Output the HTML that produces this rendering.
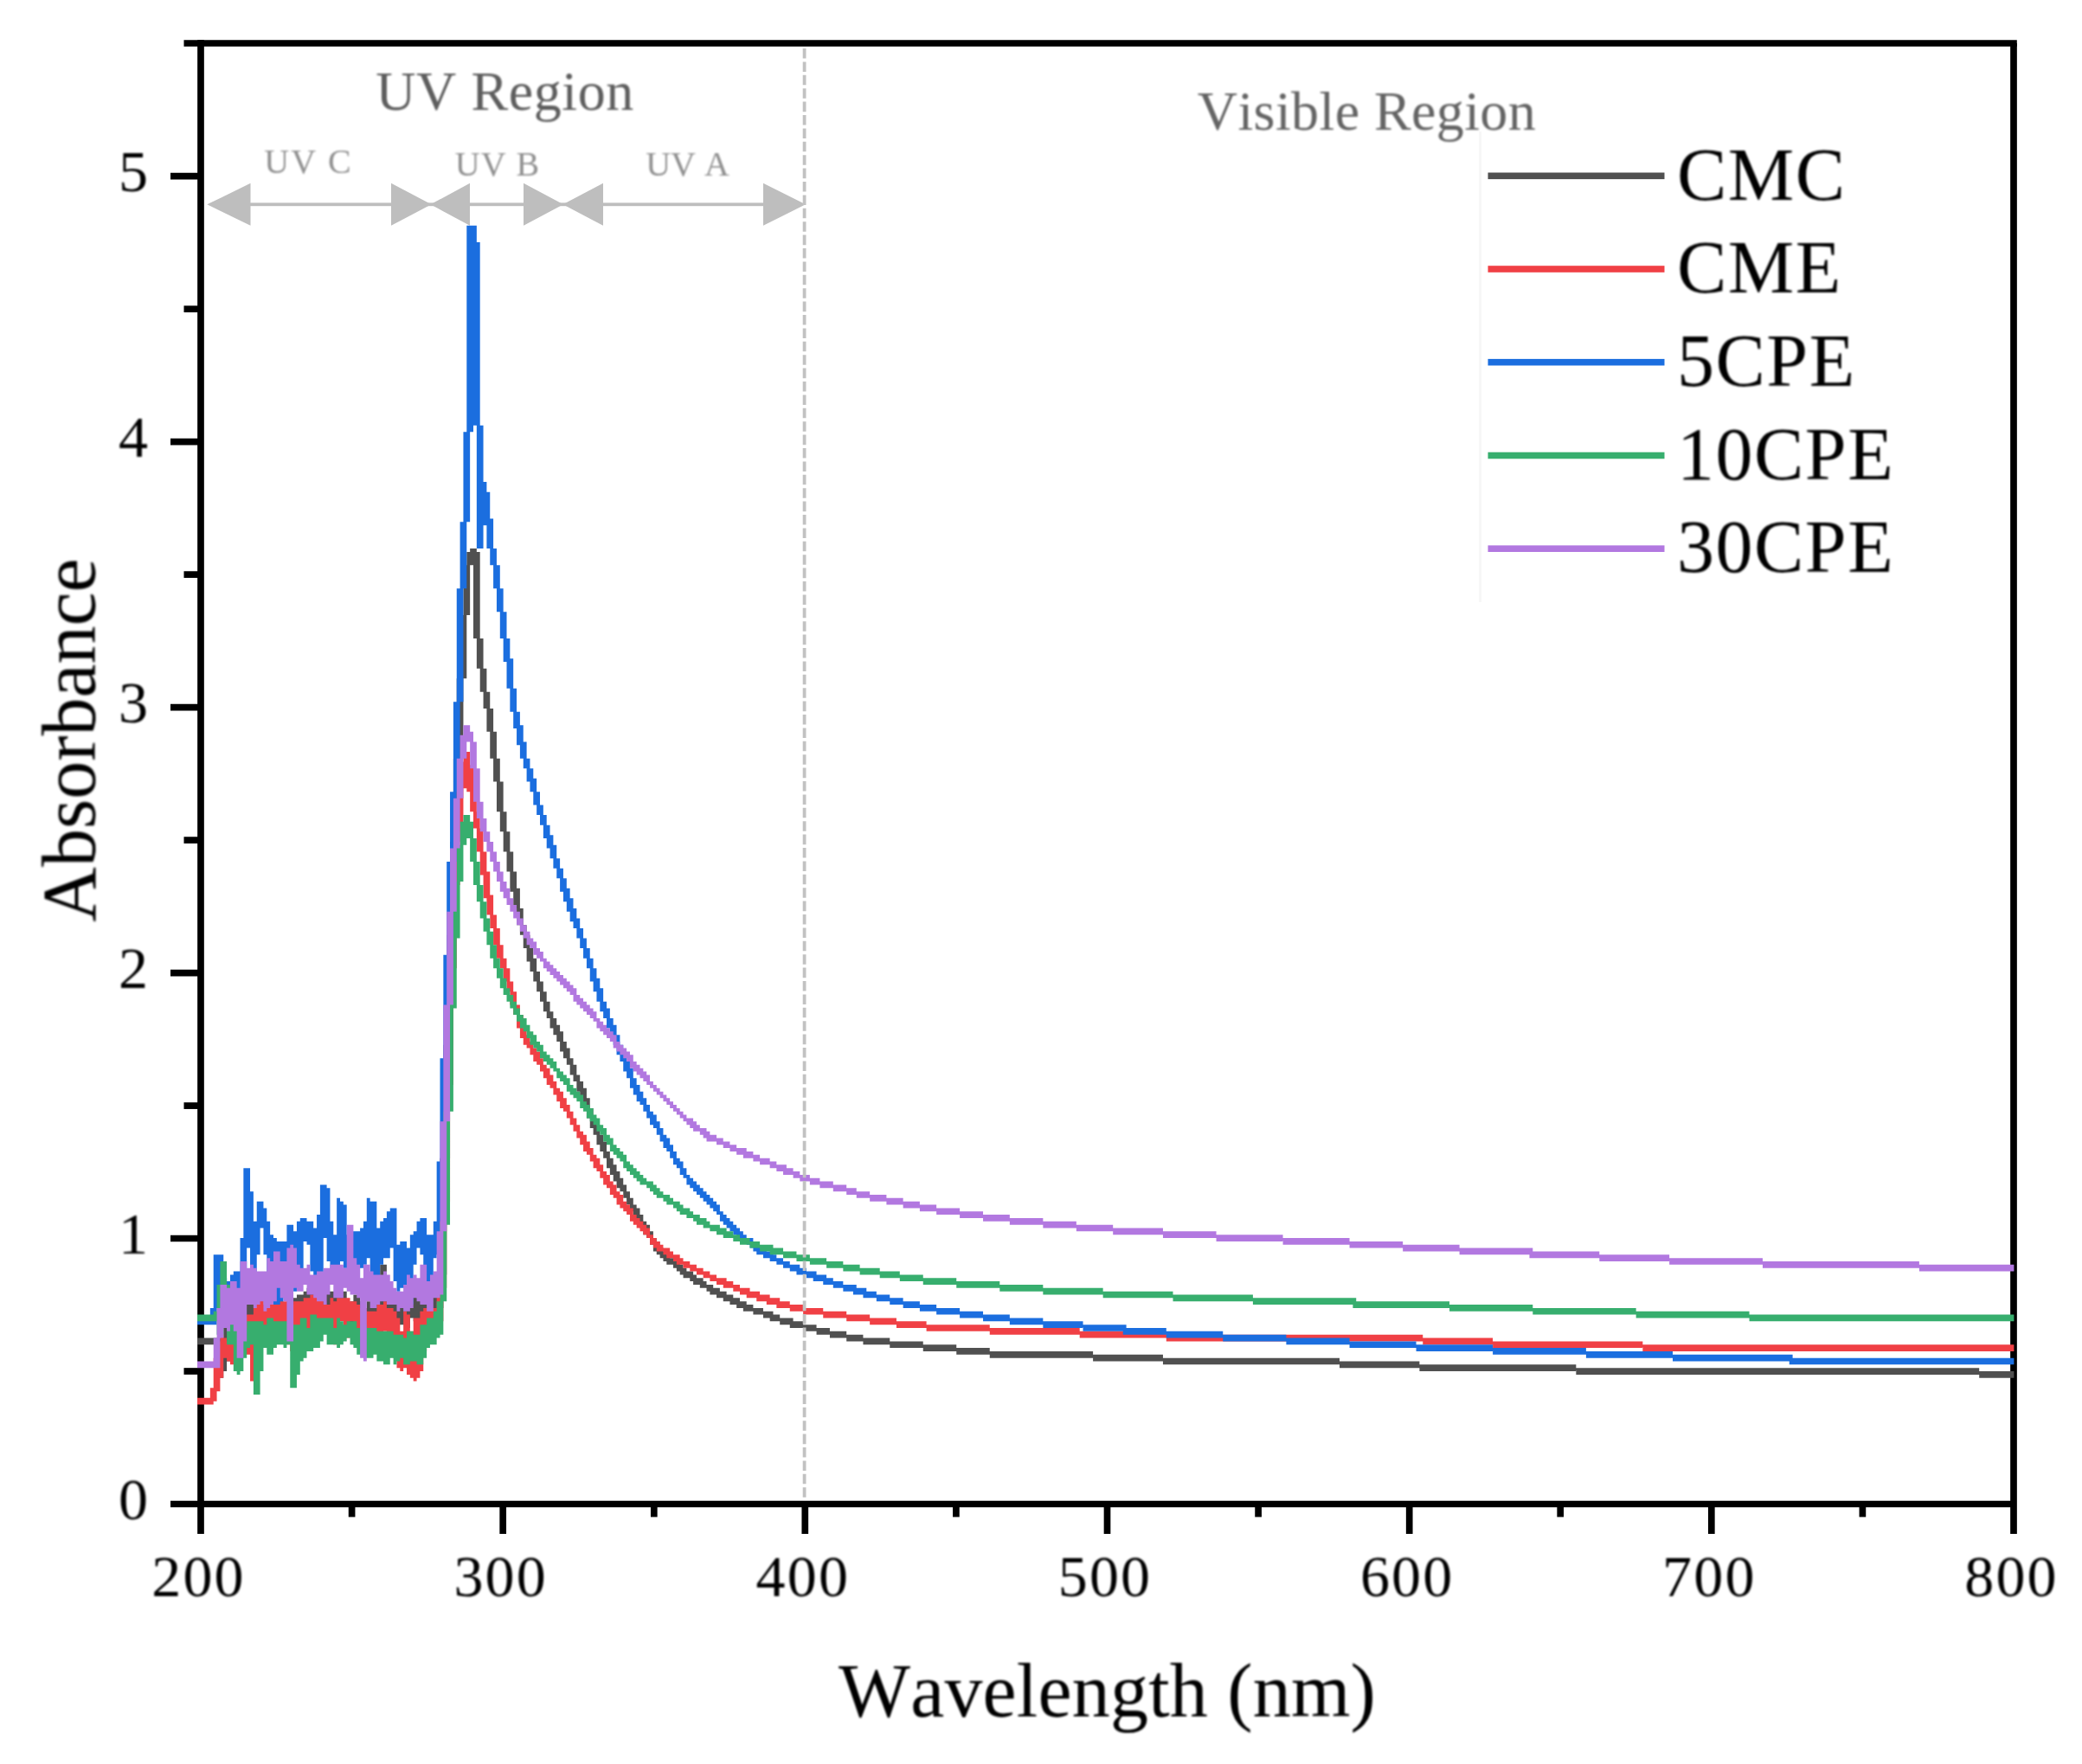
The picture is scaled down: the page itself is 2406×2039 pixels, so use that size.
<!DOCTYPE html>
<html lang="en">
<head>
<meta charset="utf-8">
<title>UV-Vis absorbance spectra</title>
<style>
html,body{margin:0;padding:0;background:#fff;}
body{width:2406px;height:2039px;overflow:hidden;}
svg{display:block;}
text{filter:blur(0.9px);font-kerning:none;}
</style>
</head>
<body>
<svg width="2406" height="2039" viewBox="0 0 2406 2039" role="img" aria-label="UV-Vis absorbance spectra">
<rect width="2406" height="2039" fill="#ffffff"/>
<line x1="1710.5" y1="152" x2="1710.5" y2="696" stroke="#f7f7f7" stroke-width="3"/>
<g fill="#bebebe" stroke="none">
<rect x="262" y="234.4" width="650" height="3.8"/>
<polygon points="239.3,236.3 289.5,211.8 289.5,260.8"/>
<polygon points="498.5,236.3 452.0,211.8 452.0,260.8"/>
<polygon points="497.5,236.3 543.0,211.8 543.0,260.8"/>
<polygon points="651.0,236.3 605.0,211.8 605.0,260.8"/>
<polygon points="650.5,236.3 697.0,211.8 697.0,260.8"/>
<polygon points="931.0,236.3 882.0,211.8 882.0,260.8"/>
</g>
<g font-family="'Liberation Serif', serif">
<text x="583.5" y="126.5" font-size="64" fill="#5e5e5e" letter-spacing="0.6" text-anchor="middle">UV Region</text>
<text x="1579.5" y="149.5" font-size="64" fill="#646464" letter-spacing="0.4" text-anchor="middle">Visible Region</text>
<text x="356.5" y="199.5" font-size="40" fill="#909090" letter-spacing="2" text-anchor="middle">UV C</text>
<text x="575" y="202.5" font-size="40" fill="#909090" letter-spacing="1" text-anchor="middle">UV B</text>
<text x="794.5" y="203" font-size="40" fill="#909090" letter-spacing="0" text-anchor="middle">UV A</text>
</g>
<g stroke="#000" stroke-width="7.7" fill="none" stroke-linecap="butt">
<path d="M212.5 50H2330.8"/>
<path d="M232.0 46.2V1773"/>
<path d="M2327.0 50V1773"/>
<path d="M197 1738.5H2327.0"/>
<path d="M212.5 1585.0H232.0"/>
<path d="M197 1431.5H232.0"/>
<path d="M212.5 1278.1H232.0"/>
<path d="M197 1124.6H232.0"/>
<path d="M212.5 971.1H232.0"/>
<path d="M197 817.6H232.0"/>
<path d="M212.5 664.1H232.0"/>
<path d="M197 510.7H232.0"/>
<path d="M212.5 357.2H232.0"/>
<path d="M197 203.7H232.0"/>
<path d="M406.6 1738.5V1753.5"/>
<path d="M755.8 1738.5V1753.5"/>
<path d="M1104.9 1738.5V1753.5"/>
<path d="M1454.1 1738.5V1753.5"/>
<path d="M1803.2 1738.5V1753.5"/>
<path d="M2152.4 1738.5V1753.5"/>
<path d="M581.2 1738.5V1773"/>
<path d="M930.3 1738.5V1773"/>
<path d="M1279.5 1738.5V1773"/>
<path d="M1628.7 1738.5V1773"/>
<path d="M1977.8 1738.5V1773"/>
</g>
<defs><clipPath id="plot"><rect x="228.0" y="54" width="2099.4" height="1690"/></clipPath></defs>
<g stroke="none" clip-path="url(#plot)">
<path fill="#505050" d="M219.75 1546.55h3.85v3.85h-3.85zM223.6 1546.55h26.95v7.7h-26.95zM250.55 1546.55h7.7v46.2h-7.7zM258.25 1531.15h3.85v53.9h-3.85zM262.1 1531.15h3.85v42.35h-3.85zM265.95 1527.3h3.85v38.5h-3.85zM269.8 1511.9h3.85v46.2h-3.85zM273.65 1508.05h3.85v42.35h-3.85zM277.5 1508.05h3.85v34.65h-3.85zM281.35 1508.05h3.85v26.95h-3.85zM285.2 1500.35h7.7v30.8h-7.7zM292.9 1500.35h3.85v19.25h-3.85zM296.75 1500.35h3.85v30.8h-3.85zM300.6 1508.05h3.85v26.95h-3.85zM304.45 1496.5h7.7v38.5h-7.7zM312.15 1492.65h3.85v38.5h-3.85zM316 1492.65h3.85v42.35h-3.85zM319.85 1496.5h3.85v38.5h-3.85zM323.7 1504.2h3.85v34.65h-3.85zM327.55 1511.9h3.85v26.95h-3.85zM331.4 1500.35h3.85v38.5h-3.85zM335.25 1500.35h7.7v34.65h-7.7zM342.95 1496.5h3.85v26.95h-3.85zM346.8 1496.5h3.85v34.65h-3.85zM350.65 1492.65h3.85v34.65h-3.85zM354.5 1488.8h3.85v34.65h-3.85zM358.35 1488.8h3.85v26.95h-3.85zM362.2 1492.65h7.7v30.8h-7.7zM369.9 1488.8h3.85v30.8h-3.85zM373.75 1488.8h3.85v34.65h-3.85zM377.6 1492.65h7.7v26.95h-7.7zM385.3 1492.65h3.85v34.65h-3.85zM389.15 1496.5h3.85v30.8h-3.85zM393 1492.65h7.7v30.8h-7.7zM400.7 1511.9h3.85v19.25h-3.85zM404.55 1504.2h3.85v26.95h-3.85zM408.4 1496.5h7.7v34.65h-7.7zM416.1 1504.2h3.85v42.35h-3.85zM419.95 1511.9h3.85v38.5h-3.85zM423.8 1504.2h3.85v46.2h-3.85zM427.65 1504.2h3.85v38.5h-3.85zM431.5 1504.2h3.85v42.35h-3.85zM435.35 1496.5h3.85v30.8h-3.85zM439.2 1461.85h3.85v65.45h-3.85zM443.05 1461.85h3.85v61.6h-3.85zM446.9 1500.35h3.85v23.1h-3.85zM450.75 1504.2h7.7v26.95h-7.7zM458.45 1508.05h3.85v23.1h-3.85zM462.3 1504.2h3.85v26.95h-3.85zM466.15 1508.05h3.85v23.1h-3.85zM470 1500.35h3.85v34.65h-3.85zM473.85 1492.65h3.85v30.8h-3.85zM477.7 1492.65h3.85v34.65h-3.85zM481.55 1500.35h3.85v30.8h-3.85zM485.4 1500.35h3.85v34.65h-3.85zM489.25 1504.2h3.85v26.95h-3.85zM493.1 1508.05h3.85v19.25h-3.85zM496.95 1492.65h3.85v34.65h-3.85zM500.8 1492.65h3.85v30.8h-3.85zM504.65 1473.4h3.85v50.05h-3.85zM508.5 1338.65h3.85v173.25h-3.85zM512.35 1207.75h3.85v265.65h-3.85zM516.2 1080.7h3.85v257.95h-3.85zM520.05 972.9h3.85v234.85h-3.85zM523.9 876.65h3.85v204.05h-3.85zM527.75 784.25h3.85v188.65h-3.85zM531.6 711.1h3.85v165.55h-3.85zM535.45 653.35h3.85v130.9h-3.85zM539.3 637.95h3.85v73.15h-3.85zM543.15 634.1h3.85v19.25h-3.85zM547 634.1h3.85v103.95h-3.85zM550.85 637.95h3.85v134.75h-3.85zM554.7 738.05h3.85v61.6h-3.85zM558.55 772.7h3.85v46.2h-3.85zM562.4 799.65h3.85v46.2h-3.85zM566.25 818.9h3.85v57.75h-3.85zM570.1 845.85h3.85v57.75h-3.85zM573.95 876.65h3.85v61.6h-3.85zM577.8 903.6h3.85v57.75h-3.85zM581.65 938.25h3.85v46.2h-3.85zM585.5 961.35h3.85v46.2h-3.85zM589.35 984.45h3.85v46.2h-3.85zM593.2 1007.55h3.85v42.35h-3.85zM597.05 1026.8h3.85v42.35h-3.85zM600.9 1049.9h3.85v30.8h-3.85zM604.75 1069.15h3.85v26.95h-3.85zM608.6 1080.7h3.85v30.8h-3.85zM612.45 1096.1h3.85v26.95h-3.85zM616.3 1107.65h3.85v26.95h-3.85zM620.15 1123.05h3.85v23.1h-3.85zM624 1134.6h3.85v23.1h-3.85zM627.85 1146.15h3.85v23.1h-3.85zM631.7 1157.7h3.85v19.25h-3.85zM635.55 1169.25h3.85v19.25h-3.85zM639.4 1176.95h3.85v19.25h-3.85zM643.25 1184.65h3.85v19.25h-3.85zM647.1 1192.35h3.85v23.1h-3.85zM650.95 1203.9h3.85v19.25h-3.85zM654.8 1211.6h3.85v19.25h-3.85zM658.65 1223.15h3.85v19.25h-3.85zM662.5 1230.85h3.85v19.25h-3.85zM666.35 1242.4h3.85v19.25h-3.85zM670.2 1250.1h3.85v19.25h-3.85zM674.05 1257.8h3.85v23.1h-3.85zM677.9 1269.35h3.85v23.1h-3.85zM681.75 1280.9h3.85v23.1h-3.85zM685.6 1292.45h3.85v19.25h-3.85zM689.45 1300.15h3.85v23.1h-3.85zM693.3 1311.7h3.85v19.25h-3.85zM697.15 1319.4h3.85v19.25h-3.85zM701 1330.95h3.85v19.25h-3.85zM704.85 1338.65h3.85v19.25h-3.85zM708.7 1346.35h3.85v19.25h-3.85zM712.55 1354.05h3.85v19.25h-3.85zM716.4 1361.75h3.85v15.4h-3.85zM720.25 1369.45h3.85v15.4h-3.85zM724.1 1377.15h3.85v15.4h-3.85zM727.95 1384.85h3.85v15.4h-3.85zM731.8 1392.55h3.85v15.4h-3.85zM735.65 1396.4h3.85v15.4h-3.85zM739.5 1404.1h3.85v15.4h-3.85zM743.35 1411.8h3.85v15.4h-3.85zM747.2 1415.65h3.85v15.4h-3.85zM751.05 1423.35h3.85v15.4h-3.85zM754.9 1431.05h3.85v15.4h-3.85zM758.75 1434.9h3.85v15.4h-3.85zM762.6 1442.6h3.85v11.55h-3.85zM766.45 1446.45h3.85v11.55h-3.85zM770.3 1450.3h3.85v11.55h-3.85zM774.15 1454.15h3.85v7.7h-3.85zM778 1458h3.85v7.7h-3.85zM781.85 1458h3.85v11.55h-3.85zM785.7 1461.85h3.85v11.55h-3.85zM789.55 1465.7h3.85v11.55h-3.85zM793.4 1469.55h3.85v7.7h-3.85zM797.25 1469.55h3.85v11.55h-3.85zM801.1 1473.4h3.85v11.55h-3.85zM804.95 1477.25h3.85v7.7h-3.85zM808.8 1477.25h3.85v11.55h-3.85zM812.65 1481.1h3.85v7.7h-3.85zM816.5 1484.95h3.85v7.7h-3.85zM820.35 1484.95h3.85v11.55h-3.85zM824.2 1488.8h3.85v7.7h-3.85zM828.05 1488.8h3.85v11.55h-3.85zM831.9 1492.65h3.85v7.7h-3.85zM835.75 1492.65h3.85v11.55h-3.85zM839.6 1496.5h3.85v7.7h-3.85zM843.45 1496.5h3.85v11.55h-3.85zM847.3 1500.35h3.85v7.7h-3.85zM851.15 1500.35h3.85v11.55h-3.85zM855 1504.2h3.85v7.7h-3.85zM858.85 1504.2h3.85v11.55h-3.85zM862.7 1508.05h7.7v7.7h-7.7zM870.4 1511.9h11.55v7.7h-11.55zM881.95 1515.75h7.7v7.7h-7.7zM889.65 1515.75h3.85v11.55h-3.85zM893.5 1519.6h7.7v7.7h-7.7zM901.2 1523.45h11.55v7.7h-11.55zM912.75 1523.45h3.85v11.55h-3.85zM916.6 1527.3h11.55v7.7h-11.55zM928.15 1531.15h15.4v7.7h-15.4zM943.55 1535h15.4v7.7h-15.4zM958.95 1538.85h19.25v7.7h-19.25zM978.2 1542.7h19.25v7.7h-19.25zM997.45 1546.55h30.8v7.7h-30.8zM1028.25 1550.4h38.5v7.7h-38.5zM1066.75 1554.25h38.5v7.7h-38.5zM1105.25 1558.1h38.5v7.7h-38.5zM1143.75 1561.95h119.35v7.7h-119.35zM1263.1 1565.8h80.85v7.7h-80.85zM1343.95 1569.65h204.05v7.7h-204.05zM1548 1573.5h92.4v7.7h-92.4zM1640.4 1577.35h180.95v7.7h-180.95zM1821.35 1581.2h465.85v7.7h-465.85zM2287.2 1585.05h42.35v7.7h-42.35z"/>
<path fill="#F04045" d="M219.75 1615.85h3.85v3.85h-3.85zM223.6 1615.85h19.25v7.7h-19.25zM242.85 1604.3h3.85v19.25h-3.85zM246.7 1569.65h3.85v50.05h-3.85zM250.55 1550.4h3.85v57.75h-3.85zM254.4 1542.7h3.85v50.05h-3.85zM258.25 1546.55h3.85v23.1h-3.85zM262.1 1550.4h3.85v23.1h-3.85zM265.95 1535h3.85v42.35h-3.85zM269.8 1538.85h3.85v38.5h-3.85zM273.65 1535h3.85v38.5h-3.85zM277.5 1535h3.85v30.8h-3.85zM281.35 1519.6h7.7v46.2h-7.7zM289.05 1519.6h3.85v77h-3.85zM292.9 1488.8h3.85v107.8h-3.85zM296.75 1484.95h3.85v80.85h-3.85zM300.6 1484.95h3.85v53.9h-3.85zM304.45 1508.05h3.85v30.8h-3.85zM308.3 1496.5h3.85v38.5h-3.85zM312.15 1492.65h3.85v38.5h-3.85zM316 1492.65h3.85v42.35h-3.85zM319.85 1504.2h3.85v38.5h-3.85zM323.7 1504.2h3.85v42.35h-3.85zM327.55 1504.2h3.85v46.2h-3.85zM331.4 1504.2h3.85v50.05h-3.85zM335.25 1508.05h3.85v53.9h-3.85zM339.1 1504.2h3.85v57.75h-3.85zM342.95 1504.2h3.85v50.05h-3.85zM346.8 1504.2h3.85v46.2h-3.85zM350.65 1500.35h7.7v46.2h-7.7zM358.35 1496.5h7.7v50.05h-7.7zM366.05 1496.5h3.85v46.2h-3.85zM369.9 1496.5h3.85v38.5h-3.85zM373.75 1508.05h3.85v23.1h-3.85zM377.6 1508.05h3.85v19.25h-3.85zM381.45 1500.35h3.85v46.2h-3.85zM385.3 1504.2h3.85v50.05h-3.85zM389.15 1500.35h3.85v50.05h-3.85zM393 1500.35h3.85v26.95h-3.85zM396.85 1500.35h7.7v46.2h-7.7zM404.55 1504.2h3.85v23.1h-3.85zM408.4 1504.2h3.85v50.05h-3.85zM412.25 1508.05h3.85v46.2h-3.85zM416.1 1511.9h7.7v38.5h-7.7zM423.8 1515.75h3.85v30.8h-3.85zM427.65 1515.75h3.85v34.65h-3.85zM431.5 1515.75h3.85v26.95h-3.85zM435.35 1508.05h7.7v42.35h-7.7zM443.05 1504.2h3.85v34.65h-3.85zM446.9 1511.9h3.85v42.35h-3.85zM450.75 1511.9h3.85v46.2h-3.85zM454.6 1515.75h3.85v53.9h-3.85zM458.45 1523.45h3.85v57.75h-3.85zM462.3 1538.85h3.85v46.2h-3.85zM466.15 1515.75h3.85v65.45h-3.85zM470 1519.6h3.85v69.3h-3.85zM473.85 1538.85h3.85v53.9h-3.85zM477.7 1523.45h3.85v73.15h-3.85zM481.55 1523.45h3.85v69.3h-3.85zM485.4 1515.75h3.85v69.3h-3.85zM489.25 1511.9h3.85v50.05h-3.85zM493.1 1511.9h11.55v26.95h-11.55zM504.65 1488.8h3.85v50.05h-3.85zM508.5 1388.7h3.85v138.6h-3.85zM512.35 1253.95h3.85v234.85h-3.85zM516.2 1119.2h3.85v269.5h-3.85zM520.05 1022.95h3.85v231h-3.85zM523.9 957.5h3.85v161.7h-3.85zM527.75 911.3h3.85v111.65h-3.85zM531.6 880.5h3.85v80.85h-3.85zM535.45 868.95h3.85v42.35h-3.85zM539.3 868.95h3.85v46.2h-3.85zM543.15 884.35h3.85v53.9h-3.85zM547 915.15h3.85v42.35h-3.85zM550.85 938.25h3.85v46.2h-3.85zM554.7 957.5h3.85v53.9h-3.85zM558.55 984.45h3.85v53.9h-3.85zM562.4 1007.55h3.85v50.05h-3.85zM566.25 1034.5h3.85v38.5h-3.85zM570.1 1057.6h3.85v34.65h-3.85zM573.95 1073h3.85v34.65h-3.85zM577.8 1092.25h3.85v26.95h-3.85zM581.65 1107.65h3.85v26.95h-3.85zM585.5 1119.2h3.85v26.95h-3.85zM589.35 1134.6h3.85v26.95h-3.85zM593.2 1146.15h3.85v26.95h-3.85zM597.05 1161.55h3.85v26.95h-3.85zM600.9 1173.1h3.85v26.95h-3.85zM604.75 1188.5h3.85v19.25h-3.85zM608.6 1196.2h3.85v15.4h-3.85zM612.45 1203.9h3.85v15.4h-3.85zM616.3 1211.6h3.85v15.4h-3.85zM620.15 1215.45h3.85v15.4h-3.85zM624 1223.15h3.85v15.4h-3.85zM627.85 1230.85h3.85v15.4h-3.85zM631.7 1234.7h3.85v19.25h-3.85zM635.55 1242.4h3.85v15.4h-3.85zM639.4 1250.1h3.85v15.4h-3.85zM643.25 1257.8h3.85v15.4h-3.85zM647.1 1261.65h3.85v19.25h-3.85zM650.95 1269.35h3.85v15.4h-3.85zM654.8 1277.05h3.85v15.4h-3.85zM658.65 1284.75h3.85v15.4h-3.85zM662.5 1292.45h3.85v15.4h-3.85zM666.35 1300.15h3.85v15.4h-3.85zM670.2 1307.85h3.85v15.4h-3.85zM674.05 1311.7h3.85v19.25h-3.85zM677.9 1319.4h3.85v15.4h-3.85zM681.75 1327.1h3.85v15.4h-3.85zM685.6 1334.8h3.85v15.4h-3.85zM689.45 1338.65h3.85v15.4h-3.85zM693.3 1346.35h3.85v15.4h-3.85zM697.15 1354.05h3.85v15.4h-3.85zM701 1357.9h3.85v15.4h-3.85zM704.85 1365.6h3.85v15.4h-3.85zM708.7 1369.45h3.85v15.4h-3.85zM712.55 1377.15h3.85v15.4h-3.85zM716.4 1381h3.85v15.4h-3.85zM720.25 1388.7h3.85v11.55h-3.85zM724.1 1392.55h3.85v11.55h-3.85zM727.95 1396.4h3.85v15.4h-3.85zM731.8 1404.1h3.85v11.55h-3.85zM735.65 1407.95h3.85v11.55h-3.85zM739.5 1411.8h3.85v11.55h-3.85zM743.35 1415.65h3.85v11.55h-3.85zM747.2 1419.5h3.85v11.55h-3.85zM751.05 1427.2h3.85v11.55h-3.85zM754.9 1431.05h3.85v11.55h-3.85zM758.75 1434.9h3.85v11.55h-3.85zM762.6 1438.75h3.85v7.7h-3.85zM766.45 1442.6h3.85v7.7h-3.85zM770.3 1442.6h3.85v11.55h-3.85zM774.15 1446.45h3.85v7.7h-3.85zM778 1450.3h3.85v7.7h-3.85zM781.85 1450.3h3.85v11.55h-3.85zM785.7 1454.15h3.85v7.7h-3.85zM789.55 1458h7.7v7.7h-7.7zM797.25 1461.85h7.7v7.7h-7.7zM804.95 1465.7h7.7v7.7h-7.7zM812.65 1469.55h7.7v7.7h-7.7zM820.35 1473.4h7.7v7.7h-7.7zM828.05 1477.25h7.7v7.7h-7.7zM835.75 1477.25h3.85v11.55h-3.85zM839.6 1481.1h7.7v7.7h-7.7zM847.3 1484.95h7.7v7.7h-7.7zM855 1488.8h7.7v7.7h-7.7zM862.7 1488.8h3.85v11.55h-3.85zM866.55 1492.65h7.7v7.7h-7.7zM874.25 1492.65h3.85v11.55h-3.85zM878.1 1496.5h7.7v7.7h-7.7zM885.8 1496.5h3.85v11.55h-3.85zM889.65 1500.35h7.7v7.7h-7.7zM897.35 1500.35h3.85v11.55h-3.85zM901.2 1504.2h11.55v7.7h-11.55zM912.75 1508.05h15.4v7.7h-15.4zM928.15 1511.9h23.1v7.7h-23.1zM951.25 1515.75h26.95v7.7h-26.95zM978.2 1519.6h26.95v7.7h-26.95zM1005.15 1523.45h30.8v7.7h-30.8zM1035.95 1527.3h34.65v7.7h-34.65zM1070.6 1531.15h73.15v7.7h-73.15zM1143.75 1535h103.95v7.7h-103.95zM1247.7 1538.85h100.1v7.7h-100.1zM1347.8 1542.7h296.45v7.7h-296.45zM1644.25 1546.55h80.85v7.7h-80.85zM1725.1 1550.4h173.25v7.7h-173.25zM1898.35 1554.25h431.2v7.7h-431.2z"/>
<path fill="#1B6EDF" d="M219.75 1523.45h3.85v3.85h-3.85zM223.6 1523.45h19.25v7.7h-19.25zM242.85 1511.9h3.85v19.25h-3.85zM246.7 1450.3h3.85v80.85h-3.85zM250.55 1450.3h3.85v61.6h-3.85zM254.4 1450.3h3.85v46.2h-3.85zM258.25 1477.25h3.85v23.1h-3.85zM262.1 1481.1h3.85v38.5h-3.85zM265.95 1473.4h3.85v46.2h-3.85zM269.8 1469.55h3.85v46.2h-3.85zM273.65 1469.55h3.85v42.35h-3.85zM277.5 1431.05h3.85v84.7h-3.85zM281.35 1350.2h3.85v154h-3.85zM285.2 1350.2h3.85v92.4h-3.85zM289.05 1377.15h3.85v96.25h-3.85zM292.9 1411.8h3.85v61.6h-3.85zM296.75 1388.7h3.85v61.6h-3.85zM300.6 1388.7h3.85v30.8h-3.85zM304.45 1396.4h3.85v53.9h-3.85zM308.3 1411.8h3.85v61.6h-3.85zM312.15 1427.2h3.85v53.9h-3.85zM316 1431.05h3.85v77h-3.85zM319.85 1434.9h3.85v73.15h-3.85zM323.7 1434.9h3.85v69.3h-3.85zM327.55 1434.9h3.85v65.45h-3.85zM331.4 1415.65h7.7v53.9h-7.7zM339.1 1423.35h3.85v69.3h-3.85zM342.95 1411.8h3.85v77h-3.85zM346.8 1407.95h3.85v69.3h-3.85zM350.65 1407.95h3.85v26.95h-3.85zM354.5 1411.8h3.85v26.95h-3.85zM358.35 1411.8h3.85v57.75h-3.85zM362.2 1419.5h3.85v61.6h-3.85zM366.05 1404.1h3.85v77h-3.85zM369.9 1369.45h3.85v107.8h-3.85zM373.75 1369.45h3.85v61.6h-3.85zM377.6 1373.3h3.85v84.7h-3.85zM381.45 1411.8h3.85v61.6h-3.85zM385.3 1427.2h3.85v50.05h-3.85zM389.15 1384.85h3.85v88.55h-3.85zM393 1388.7h3.85v69.3h-3.85zM396.85 1392.55h3.85v73.15h-3.85zM400.7 1427.2h3.85v38.5h-3.85zM404.55 1423.35h3.85v42.35h-3.85zM408.4 1423.35h3.85v61.6h-3.85zM412.25 1423.35h3.85v57.75h-3.85zM416.1 1419.5h3.85v46.2h-3.85zM419.95 1411.8h3.85v50.05h-3.85zM423.8 1384.85h3.85v69.3h-3.85zM427.65 1388.7h3.85v88.55h-3.85zM431.5 1388.7h3.85v107.8h-3.85zM435.35 1419.5h3.85v77h-3.85zM439.2 1411.8h3.85v50.05h-3.85zM443.05 1407.95h3.85v46.2h-3.85zM446.9 1400.25h3.85v53.9h-3.85zM450.75 1396.4h3.85v46.2h-3.85zM454.6 1396.4h3.85v84.7h-3.85zM458.45 1438.75h3.85v53.9h-3.85zM462.3 1434.9h7.7v53.9h-7.7zM470 1442.6h3.85v65.45h-3.85zM473.85 1427.2h3.85v80.85h-3.85zM477.7 1423.35h3.85v38.5h-3.85zM481.55 1411.8h3.85v30.8h-3.85zM485.4 1407.95h3.85v42.35h-3.85zM489.25 1407.95h3.85v88.55h-3.85zM493.1 1427.2h3.85v69.3h-3.85zM496.95 1427.2h3.85v57.75h-3.85zM500.8 1411.8h3.85v42.35h-3.85zM504.65 1342.5h3.85v107.8h-3.85zM508.5 1223.15h3.85v188.65h-3.85zM512.35 1103.8h3.85v238.7h-3.85zM516.2 996h3.85v227.15h-3.85zM520.05 915.15h3.85v188.65h-3.85zM523.9 811.2h3.85v184.8h-3.85zM527.75 680.3h3.85v234.85h-3.85zM531.6 603.3h3.85v207.9h-3.85zM535.45 499.35h3.85v180.95h-3.85zM539.3 260.65h3.85v342.65h-3.85zM543.15 260.65h3.85v238.7h-3.85zM547 260.65h3.85v231h-3.85zM550.85 279.9h3.85v354.2h-3.85zM554.7 491.65h3.85v142.45h-3.85zM558.55 557.1h3.85v50.05h-3.85zM562.4 568.65h3.85v65.45h-3.85zM566.25 599.45h3.85v53.9h-3.85zM570.1 634.1h3.85v46.2h-3.85zM573.95 653.35h3.85v53.9h-3.85zM577.8 680.3h3.85v57.75h-3.85zM581.65 707.25h3.85v57.75h-3.85zM585.5 738.05h3.85v57.75h-3.85zM589.35 761.15h3.85v61.6h-3.85zM593.2 795.8h3.85v46.2h-3.85zM597.05 822.75h3.85v38.5h-3.85zM600.9 838.15h3.85v38.5h-3.85zM604.75 857.4h3.85v30.8h-3.85zM608.6 876.65h3.85v26.95h-3.85zM612.45 888.2h3.85v26.95h-3.85zM616.3 899.75h3.85v30.8h-3.85zM620.15 915.15h3.85v26.95h-3.85zM624 930.55h3.85v23.1h-3.85zM627.85 942.1h3.85v26.95h-3.85zM631.7 953.65h3.85v26.95h-3.85zM635.55 965.2h3.85v26.95h-3.85zM639.4 976.75h3.85v26.95h-3.85zM643.25 992.15h3.85v23.1h-3.85zM647.1 1003.7h3.85v26.95h-3.85zM650.95 1015.25h3.85v26.95h-3.85zM654.8 1026.8h3.85v26.95h-3.85zM658.65 1038.35h3.85v26.95h-3.85zM662.5 1049.9h3.85v23.1h-3.85zM666.35 1061.45h3.85v23.1h-3.85zM670.2 1073h3.85v23.1h-3.85zM674.05 1084.55h3.85v23.1h-3.85zM677.9 1096.1h3.85v23.1h-3.85zM681.75 1107.65h3.85v26.95h-3.85zM685.6 1119.2h3.85v26.95h-3.85zM689.45 1130.75h3.85v26.95h-3.85zM693.3 1142.3h3.85v26.95h-3.85zM697.15 1157.7h3.85v19.25h-3.85zM701 1165.4h3.85v23.1h-3.85zM704.85 1176.95h3.85v19.25h-3.85zM708.7 1184.65h3.85v23.1h-3.85zM712.55 1196.2h3.85v23.1h-3.85zM716.4 1207.75h3.85v19.25h-3.85zM720.25 1215.45h3.85v23.1h-3.85zM724.1 1227h3.85v19.25h-3.85zM727.95 1234.7h3.85v23.1h-3.85zM731.8 1246.25h3.85v19.25h-3.85zM735.65 1253.95h3.85v19.25h-3.85zM739.5 1261.65h3.85v15.4h-3.85zM743.35 1269.35h3.85v15.4h-3.85zM747.2 1277.05h3.85v15.4h-3.85zM751.05 1284.75h3.85v15.4h-3.85zM754.9 1288.6h3.85v15.4h-3.85zM758.75 1296.3h3.85v15.4h-3.85zM762.6 1304h3.85v15.4h-3.85zM766.45 1311.7h3.85v15.4h-3.85zM770.3 1315.55h3.85v15.4h-3.85zM774.15 1323.25h3.85v15.4h-3.85zM778 1330.95h3.85v15.4h-3.85zM781.85 1338.65h3.85v11.55h-3.85zM785.7 1342.5h3.85v15.4h-3.85zM789.55 1350.2h3.85v11.55h-3.85zM793.4 1357.9h3.85v11.55h-3.85zM797.25 1361.75h3.85v11.55h-3.85zM801.1 1365.6h3.85v11.55h-3.85zM804.95 1369.45h3.85v11.55h-3.85zM808.8 1373.3h3.85v11.55h-3.85zM812.65 1377.15h3.85v11.55h-3.85zM816.5 1381h3.85v11.55h-3.85zM820.35 1384.85h3.85v11.55h-3.85zM824.2 1388.7h3.85v11.55h-3.85zM828.05 1392.55h3.85v11.55h-3.85zM831.9 1400.25h3.85v11.55h-3.85zM835.75 1404.1h3.85v11.55h-3.85zM839.6 1407.95h3.85v11.55h-3.85zM843.45 1411.8h3.85v11.55h-3.85zM847.3 1415.65h3.85v11.55h-3.85zM851.15 1419.5h3.85v11.55h-3.85zM855 1423.35h3.85v7.7h-3.85zM858.85 1427.2h3.85v7.7h-3.85zM862.7 1431.05h3.85v7.7h-3.85zM866.55 1431.05h3.85v11.55h-3.85zM870.4 1434.9h3.85v11.55h-3.85zM874.25 1438.75h3.85v11.55h-3.85zM878.1 1442.6h3.85v7.7h-3.85zM881.95 1442.6h3.85v11.55h-3.85zM885.8 1446.45h3.85v7.7h-3.85zM889.65 1446.45h3.85v11.55h-3.85zM893.5 1450.3h3.85v7.7h-3.85zM897.35 1454.15h7.7v7.7h-7.7zM905.05 1458h7.7v7.7h-7.7zM912.75 1461.85h7.7v7.7h-7.7zM920.45 1461.85h3.85v11.55h-3.85zM924.3 1465.7h7.7v7.7h-7.7zM932 1469.55h7.7v7.7h-7.7zM939.7 1469.55h3.85v11.55h-3.85zM943.55 1473.4h7.7v7.7h-7.7zM951.25 1473.4h3.85v11.55h-3.85zM955.1 1477.25h7.7v7.7h-7.7zM962.8 1481.1h11.55v7.7h-11.55zM974.35 1484.95h11.55v7.7h-11.55zM985.9 1484.95h3.85v11.55h-3.85zM989.75 1488.8h7.7v7.7h-7.7zM997.45 1488.8h3.85v11.55h-3.85zM1001.3 1492.65h11.55v7.7h-11.55zM1012.85 1496.5h15.4v7.7h-15.4zM1028.25 1500.35h15.4v7.7h-15.4zM1043.65 1504.2h19.25v7.7h-19.25zM1062.9 1508.05h19.25v7.7h-19.25zM1082.15 1511.9h26.95v7.7h-26.95zM1109.1 1515.75h26.95v7.7h-26.95zM1136.05 1519.6h30.8v7.7h-30.8zM1166.85 1523.45h38.5v7.7h-38.5zM1205.35 1527.3h46.2v7.7h-46.2zM1251.55 1531.15h46.2v7.7h-46.2zM1297.75 1531.15h3.85v11.55h-3.85zM1301.6 1535h46.2v7.7h-46.2zM1347.8 1538.85h65.45v7.7h-65.45zM1413.25 1542.7h73.15v7.7h-73.15zM1486.4 1546.55h73.15v7.7h-73.15zM1559.55 1550.4h77v7.7h-77zM1636.55 1554.25h88.55v7.7h-88.55zM1725.1 1558.1h107.8v7.7h-107.8zM1832.9 1561.95h100.1v7.7h-100.1zM1933 1565.8h134.75v7.7h-134.75zM2067.75 1565.8h3.85v11.55h-3.85zM2071.6 1569.65h257.95v7.7h-257.95z"/>
<path fill="#37AE6E" d="M219.75 1519.6h3.85v3.85h-3.85zM223.6 1519.6h23.1v7.7h-23.1zM246.7 1515.75h3.85v11.55h-3.85zM250.55 1484.95h3.85v57.75h-3.85zM254.4 1458h3.85v84.7h-3.85zM258.25 1458h3.85v73.15h-3.85zM262.1 1484.95h3.85v69.3h-3.85zM265.95 1504.2h3.85v50.05h-3.85zM269.8 1511.9h3.85v73.15h-3.85zM273.65 1523.45h3.85v65.45h-3.85zM277.5 1523.45h3.85v61.6h-3.85zM281.35 1535h3.85v34.65h-3.85zM285.2 1527.3h3.85v30.8h-3.85zM289.05 1527.3h3.85v26.95h-3.85zM292.9 1527.3h7.7v84.7h-7.7zM300.6 1527.3h3.85v57.75h-3.85zM304.45 1531.15h3.85v26.95h-3.85zM308.3 1523.45h7.7v42.35h-7.7zM316 1527.3h3.85v30.8h-3.85zM319.85 1527.3h7.7v26.95h-7.7zM327.55 1527.3h3.85v30.8h-3.85zM331.4 1527.3h3.85v26.95h-3.85zM335.25 1527.3h3.85v77h-3.85zM339.1 1531.15h3.85v73.15h-3.85zM342.95 1531.15h3.85v57.75h-3.85zM346.8 1523.45h3.85v50.05h-3.85zM350.65 1523.45h3.85v46.2h-3.85zM354.5 1535h3.85v26.95h-3.85zM358.35 1519.6h3.85v42.35h-3.85zM362.2 1519.6h3.85v38.5h-3.85zM366.05 1523.45h3.85v34.65h-3.85zM369.9 1523.45h3.85v26.95h-3.85zM373.75 1523.45h3.85v19.25h-3.85zM377.6 1523.45h7.7v30.8h-7.7zM385.3 1535h3.85v19.25h-3.85zM389.15 1523.45h3.85v34.65h-3.85zM393 1527.3h3.85v26.95h-3.85zM396.85 1531.15h3.85v19.25h-3.85zM400.7 1527.3h3.85v19.25h-3.85zM404.55 1527.3h3.85v26.95h-3.85zM408.4 1527.3h3.85v30.8h-3.85zM412.25 1535h3.85v30.8h-3.85zM416.1 1531.15h3.85v34.65h-3.85zM419.95 1531.15h3.85v38.5h-3.85zM423.8 1535h7.7v34.65h-7.7zM431.5 1535h3.85v30.8h-3.85zM435.35 1538.85h7.7v34.65h-7.7zM443.05 1538.85h7.7v38.5h-7.7zM450.75 1538.85h3.85v30.8h-3.85zM454.6 1542.7h3.85v34.65h-3.85zM458.45 1542.7h3.85v30.8h-3.85zM462.3 1542.7h3.85v26.95h-3.85zM466.15 1546.55h3.85v30.8h-3.85zM470 1538.85h3.85v38.5h-3.85zM473.85 1538.85h3.85v34.65h-3.85zM477.7 1542.7h3.85v30.8h-3.85zM481.55 1542.7h3.85v34.65h-3.85zM485.4 1531.15h3.85v46.2h-3.85zM489.25 1531.15h3.85v38.5h-3.85zM493.1 1523.45h3.85v34.65h-3.85zM496.95 1523.45h3.85v30.8h-3.85zM500.8 1515.75h3.85v38.5h-3.85zM504.65 1504.2h3.85v42.35h-3.85zM508.5 1415.65h3.85v127.05h-3.85zM512.35 1284.75h3.85v219.45h-3.85zM516.2 1165.4h3.85v250.25h-3.85zM520.05 1084.55h3.85v200.2h-3.85zM523.9 1019.1h3.85v146.3h-3.85zM527.75 976.75h3.85v107.8h-3.85zM531.6 949.8h3.85v69.3h-3.85zM535.45 942.1h3.85v34.65h-3.85zM539.3 942.1h3.85v26.95h-3.85zM543.15 949.8h3.85v46.2h-3.85zM547 969.05h3.85v53.9h-3.85zM550.85 996h3.85v46.2h-3.85zM554.7 1022.95h3.85v38.5h-3.85zM558.55 1042.2h3.85v34.65h-3.85zM562.4 1061.45h3.85v30.8h-3.85zM566.25 1076.85h3.85v30.8h-3.85zM570.1 1092.25h3.85v26.95h-3.85zM573.95 1107.65h3.85v23.1h-3.85zM577.8 1119.2h3.85v23.1h-3.85zM581.65 1130.75h3.85v19.25h-3.85zM585.5 1142.3h3.85v15.4h-3.85zM589.35 1150h3.85v15.4h-3.85zM593.2 1157.7h3.85v15.4h-3.85zM597.05 1165.4h3.85v15.4h-3.85zM600.9 1173.1h3.85v15.4h-3.85zM604.75 1176.95h3.85v15.4h-3.85zM608.6 1184.65h3.85v15.4h-3.85zM612.45 1192.35h3.85v15.4h-3.85zM616.3 1196.2h3.85v15.4h-3.85zM620.15 1203.9h3.85v11.55h-3.85zM624 1207.75h3.85v15.4h-3.85zM627.85 1215.45h3.85v11.55h-3.85zM631.7 1219.3h3.85v11.55h-3.85zM635.55 1223.15h3.85v11.55h-3.85zM639.4 1227h3.85v11.55h-3.85zM643.25 1234.7h3.85v11.55h-3.85zM647.1 1238.55h3.85v11.55h-3.85zM650.95 1242.4h3.85v11.55h-3.85zM654.8 1246.25h3.85v15.4h-3.85zM658.65 1253.95h3.85v11.55h-3.85zM662.5 1257.8h3.85v11.55h-3.85zM666.35 1261.65h3.85v11.55h-3.85zM670.2 1265.5h3.85v15.4h-3.85zM674.05 1273.2h3.85v11.55h-3.85zM677.9 1277.05h3.85v15.4h-3.85zM681.75 1280.9h3.85v15.4h-3.85zM685.6 1288.6h3.85v11.55h-3.85zM689.45 1292.45h3.85v15.4h-3.85zM693.3 1300.15h3.85v11.55h-3.85zM697.15 1304h3.85v15.4h-3.85zM701 1311.7h3.85v11.55h-3.85zM704.85 1315.55h3.85v15.4h-3.85zM708.7 1323.25h3.85v11.55h-3.85zM712.55 1327.1h3.85v11.55h-3.85zM716.4 1330.95h3.85v11.55h-3.85zM720.25 1334.8h3.85v15.4h-3.85zM724.1 1342.5h3.85v11.55h-3.85zM727.95 1346.35h3.85v11.55h-3.85zM731.8 1350.2h3.85v11.55h-3.85zM735.65 1354.05h3.85v11.55h-3.85zM739.5 1357.9h3.85v11.55h-3.85zM743.35 1361.75h3.85v7.7h-3.85zM747.2 1365.6h3.85v7.7h-3.85zM751.05 1365.6h3.85v11.55h-3.85zM754.9 1369.45h3.85v11.55h-3.85zM758.75 1373.3h3.85v11.55h-3.85zM762.6 1377.15h3.85v7.7h-3.85zM766.45 1381h3.85v7.7h-3.85zM770.3 1381h3.85v11.55h-3.85zM774.15 1384.85h3.85v7.7h-3.85zM778 1388.7h3.85v7.7h-3.85zM781.85 1388.7h3.85v11.55h-3.85zM785.7 1392.55h3.85v11.55h-3.85zM789.55 1396.4h3.85v7.7h-3.85zM793.4 1396.4h3.85v11.55h-3.85zM797.25 1400.25h3.85v7.7h-3.85zM801.1 1404.1h3.85v7.7h-3.85zM804.95 1404.1h3.85v11.55h-3.85zM808.8 1407.95h3.85v7.7h-3.85zM812.65 1407.95h3.85v11.55h-3.85zM816.5 1411.8h3.85v7.7h-3.85zM820.35 1415.65h7.7v7.7h-7.7zM828.05 1415.65h3.85v11.55h-3.85zM831.9 1419.5h3.85v7.7h-3.85zM835.75 1419.5h3.85v11.55h-3.85zM839.6 1423.35h7.7v7.7h-7.7zM847.3 1427.2h7.7v7.7h-7.7zM855 1431.05h11.55v7.7h-11.55zM866.55 1434.9h11.55v7.7h-11.55zM878.1 1438.75h11.55v7.7h-11.55zM889.65 1438.75h3.85v11.55h-3.85zM893.5 1442.6h11.55v7.7h-11.55zM905.05 1446.45h15.4v7.7h-15.4zM920.45 1450.3h15.4v7.7h-15.4zM935.85 1454.15h19.25v7.7h-19.25zM955.1 1458h19.25v7.7h-19.25zM974.35 1461.85h19.25v7.7h-19.25zM993.6 1465.7h23.1v7.7h-23.1zM1016.7 1469.55h23.1v7.7h-23.1zM1039.8 1473.4h26.95v7.7h-26.95zM1066.75 1477.25h38.5v7.7h-38.5zM1105.25 1481.1h50.05v7.7h-50.05zM1155.3 1484.95h50.05v7.7h-50.05zM1205.35 1488.8h69.3v7.7h-69.3zM1274.65 1492.65h80.85v7.7h-80.85zM1355.5 1496.5h92.4v7.7h-92.4zM1447.9 1500.35h115.5v7.7h-115.5zM1563.4 1500.35h3.85v11.55h-3.85zM1567.25 1504.2h107.8v7.7h-107.8zM1675.05 1508.05h96.25v7.7h-96.25zM1771.3 1511.9h119.35v7.7h-119.35zM1890.65 1515.75h130.9v7.7h-130.9zM2021.55 1519.6h308v7.7h-308z"/>
<path fill="#B278E0" d="M219.75 1573.5h3.85v3.85h-3.85zM223.6 1573.5h23.1v7.7h-23.1zM246.7 1546.55h3.85v34.65h-3.85zM250.55 1511.9h3.85v69.3h-3.85zM254.4 1484.95h3.85v61.6h-3.85zM258.25 1484.95h3.85v50.05h-3.85zM262.1 1488.8h3.85v50.05h-3.85zM265.95 1481.1h3.85v50.05h-3.85zM269.8 1481.1h3.85v57.75h-3.85zM273.65 1488.8h3.85v80.85h-3.85zM277.5 1458h3.85v111.65h-3.85zM281.35 1458h3.85v92.4h-3.85zM285.2 1465.7h3.85v42.35h-3.85zM289.05 1461.85h3.85v46.2h-3.85zM292.9 1465.7h3.85v46.2h-3.85zM296.75 1469.55h3.85v38.5h-3.85zM300.6 1469.55h3.85v34.65h-3.85zM304.45 1469.55h3.85v46.2h-3.85zM308.3 1454.15h3.85v57.75h-3.85zM312.15 1458h3.85v50.05h-3.85zM316 1446.45h3.85v57.75h-3.85zM319.85 1446.45h3.85v42.35h-3.85zM323.7 1458h3.85v42.35h-3.85zM327.55 1458h3.85v46.2h-3.85zM331.4 1442.6h3.85v107.8h-3.85zM335.25 1438.75h3.85v111.65h-3.85zM339.1 1442.6h3.85v46.2h-3.85zM342.95 1461.85h3.85v30.8h-3.85zM346.8 1465.7h3.85v26.95h-3.85zM350.65 1465.7h3.85v19.25h-3.85zM354.5 1461.85h3.85v34.65h-3.85zM358.35 1473.4h3.85v23.1h-3.85zM362.2 1473.4h3.85v26.95h-3.85zM366.05 1469.55h7.7v34.65h-7.7zM373.75 1465.7h3.85v42.35h-3.85zM377.6 1465.7h3.85v30.8h-3.85zM381.45 1461.85h3.85v23.1h-3.85zM385.3 1461.85h11.55v38.5h-11.55zM396.85 1465.7h3.85v23.1h-3.85zM400.7 1415.65h3.85v77h-3.85zM404.55 1415.65h3.85v80.85h-3.85zM408.4 1454.15h3.85v42.35h-3.85zM412.25 1461.85h3.85v38.5h-3.85zM416.1 1477.25h3.85v92.4h-3.85zM419.95 1461.85h3.85v111.65h-3.85zM423.8 1461.85h3.85v42.35h-3.85zM427.65 1469.55h3.85v42.35h-3.85zM431.5 1473.4h3.85v38.5h-3.85zM435.35 1473.4h3.85v34.65h-3.85zM439.2 1473.4h3.85v30.8h-3.85zM443.05 1469.55h3.85v34.65h-3.85zM446.9 1473.4h3.85v34.65h-3.85zM450.75 1481.1h3.85v26.95h-3.85zM454.6 1488.8h3.85v19.25h-3.85zM458.45 1492.65h3.85v23.1h-3.85zM462.3 1492.65h3.85v19.25h-3.85zM466.15 1484.95h3.85v30.8h-3.85zM470 1473.4h3.85v42.35h-3.85zM473.85 1477.25h3.85v34.65h-3.85zM477.7 1473.4h3.85v26.95h-3.85zM481.55 1477.25h3.85v26.95h-3.85zM485.4 1461.85h7.7v46.2h-7.7zM493.1 1481.1h3.85v34.65h-3.85zM496.95 1473.4h3.85v42.35h-3.85zM500.8 1469.55h3.85v30.8h-3.85zM504.65 1423.35h3.85v77h-3.85zM508.5 1296.3h3.85v200.2h-3.85zM512.35 1161.55h3.85v261.8h-3.85zM516.2 1053.75h3.85v242.55h-3.85zM520.05 980.6h3.85v180.95h-3.85zM523.9 922.85h3.85v130.9h-3.85zM527.75 876.65h3.85v103.95h-3.85zM531.6 849.7h3.85v73.15h-3.85zM535.45 838.15h3.85v38.5h-3.85zM539.3 838.15h3.85v19.25h-3.85zM543.15 845.85h3.85v42.35h-3.85zM547 857.4h3.85v69.3h-3.85zM550.85 888.2h3.85v57.75h-3.85zM554.7 926.7h3.85v34.65h-3.85zM558.55 945.95h3.85v26.95h-3.85zM562.4 961.35h3.85v23.1h-3.85zM566.25 972.9h3.85v23.1h-3.85zM570.1 984.45h3.85v23.1h-3.85zM573.95 996h3.85v23.1h-3.85zM577.8 1007.55h3.85v23.1h-3.85zM581.65 1019.1h3.85v19.25h-3.85zM585.5 1026.8h3.85v19.25h-3.85zM589.35 1038.35h3.85v15.4h-3.85zM593.2 1046.05h3.85v15.4h-3.85zM597.05 1053.75h3.85v15.4h-3.85zM600.9 1061.45h3.85v15.4h-3.85zM604.75 1069.15h3.85v15.4h-3.85zM608.6 1076.85h3.85v15.4h-3.85zM612.45 1084.55h3.85v11.55h-3.85zM616.3 1088.4h3.85v15.4h-3.85zM620.15 1096.1h3.85v11.55h-3.85zM624 1099.95h3.85v11.55h-3.85zM627.85 1107.65h3.85v11.55h-3.85zM631.7 1111.5h3.85v11.55h-3.85zM635.55 1115.35h3.85v11.55h-3.85zM639.4 1119.2h3.85v11.55h-3.85zM643.25 1123.05h3.85v11.55h-3.85zM647.1 1126.9h3.85v11.55h-3.85zM650.95 1130.75h3.85v11.55h-3.85zM654.8 1134.6h3.85v11.55h-3.85zM658.65 1138.45h3.85v11.55h-3.85zM662.5 1142.3h3.85v15.4h-3.85zM666.35 1150h3.85v11.55h-3.85zM670.2 1153.85h3.85v11.55h-3.85zM674.05 1157.7h3.85v11.55h-3.85zM677.9 1161.55h3.85v11.55h-3.85zM681.75 1165.4h3.85v11.55h-3.85zM685.6 1169.25h3.85v11.55h-3.85zM689.45 1176.95h3.85v11.55h-3.85zM693.3 1180.8h3.85v11.55h-3.85zM697.15 1184.65h3.85v11.55h-3.85zM701 1188.5h3.85v11.55h-3.85zM704.85 1192.35h3.85v11.55h-3.85zM708.7 1196.2h3.85v15.4h-3.85zM712.55 1203.9h3.85v11.55h-3.85zM716.4 1207.75h3.85v11.55h-3.85zM720.25 1211.6h3.85v11.55h-3.85zM724.1 1215.45h3.85v11.55h-3.85zM727.95 1219.3h3.85v15.4h-3.85zM731.8 1227h3.85v11.55h-3.85zM735.65 1230.85h3.85v11.55h-3.85zM739.5 1234.7h3.85v11.55h-3.85zM743.35 1238.55h3.85v11.55h-3.85zM747.2 1242.4h3.85v11.55h-3.85zM751.05 1250.1h3.85v7.7h-3.85zM754.9 1253.95h3.85v7.7h-3.85zM758.75 1257.8h3.85v7.7h-3.85zM762.6 1261.65h3.85v7.7h-3.85zM766.45 1265.5h3.85v7.7h-3.85zM770.3 1269.35h3.85v7.7h-3.85zM774.15 1273.2h3.85v7.7h-3.85zM778 1277.05h3.85v7.7h-3.85zM781.85 1280.9h3.85v7.7h-3.85zM785.7 1284.75h3.85v7.7h-3.85zM789.55 1288.6h3.85v7.7h-3.85zM793.4 1292.45h3.85v7.7h-3.85zM797.25 1292.45h3.85v11.55h-3.85zM801.1 1296.3h3.85v11.55h-3.85zM804.95 1300.15h3.85v7.7h-3.85zM808.8 1304h3.85v7.7h-3.85zM812.65 1304h3.85v11.55h-3.85zM816.5 1307.85h3.85v11.55h-3.85zM820.35 1311.7h7.7v7.7h-7.7zM828.05 1315.55h7.7v7.7h-7.7zM835.75 1319.4h7.7v7.7h-7.7zM843.45 1323.25h7.7v7.7h-7.7zM851.15 1327.1h7.7v7.7h-7.7zM858.85 1327.1h3.85v11.55h-3.85zM862.7 1330.95h7.7v7.7h-7.7zM870.4 1334.8h7.7v7.7h-7.7zM878.1 1338.65h11.55v7.7h-11.55zM889.65 1342.5h7.7v7.7h-7.7zM897.35 1346.35h7.7v7.7h-7.7zM905.05 1346.35h3.85v11.55h-3.85zM908.9 1350.2h7.7v7.7h-7.7zM916.6 1354.05h7.7v7.7h-7.7zM924.3 1357.9h11.55v7.7h-11.55zM935.85 1361.75h11.55v7.7h-11.55zM947.4 1365.6h15.4v7.7h-15.4zM962.8 1369.45h15.4v7.7h-15.4zM978.2 1373.3h11.55v7.7h-11.55zM989.75 1377.15h15.4v7.7h-15.4zM1005.15 1381h19.25v7.7h-19.25zM1024.4 1384.85h19.25v7.7h-19.25zM1043.65 1388.7h19.25v7.7h-19.25zM1062.9 1392.55h19.25v7.7h-19.25zM1082.15 1396.4h26.95v7.7h-26.95zM1109.1 1400.25h26.95v7.7h-26.95zM1136.05 1404.1h30.8v7.7h-30.8zM1166.85 1407.95h38.5v7.7h-38.5zM1205.35 1411.8h38.5v7.7h-38.5zM1243.85 1415.65h42.35v7.7h-42.35zM1286.2 1419.5h57.75v7.7h-57.75zM1343.95 1423.35h61.6v7.7h-61.6zM1405.55 1427.2h77v7.7h-77zM1482.55 1431.05h77v7.7h-77zM1559.55 1434.9h61.6v7.7h-61.6zM1621.15 1438.75h65.45v7.7h-65.45zM1686.6 1442.6h80.85v7.7h-80.85zM1767.45 1442.6h3.85v11.55h-3.85zM1771.3 1446.45h77v7.7h-77zM1848.3 1450.3h80.85v7.7h-80.85zM1929.15 1454.15h107.8v7.7h-107.8zM2036.95 1458h180.95v7.7h-180.95zM2217.9 1461.85h111.65v7.7h-111.65z"/>
</g>
<line x1="929.6" y1="54" x2="929.6" y2="1735" stroke="#c2c2c2" stroke-width="3.8" stroke-dasharray="11.55 3.85" stroke-dashoffset="-2"/>
<g font-family="'Liberation Serif', serif" fill="#000">
<g font-size="68" text-anchor="end">
<text x="171" y="1755.5">0</text>
<text x="171" y="1448.5">1</text>
<text x="171" y="1141.6">2</text>
<text x="171" y="834.6">3</text>
<text x="171" y="527.7">4</text>
<text x="171" y="220.7">5</text>
</g>
<g font-size="68" text-anchor="middle" letter-spacing="2.2">
<text x="229.5" y="1844.5">200</text>
<text x="578.7" y="1844.5">300</text>
<text x="927.8" y="1844.5">400</text>
<text x="1277.0" y="1844.5">500</text>
<text x="1626.2" y="1844.5">600</text>
<text x="1975.3" y="1844.5">700</text>
<text x="2324.5" y="1844.5">800</text>
</g>
<text x="1279.5" y="1983.5" font-size="88" letter-spacing="0.2" text-anchor="middle">Wavelength (nm)</text>
<text transform="translate(109.5 855.5) rotate(-90)" font-size="88" text-anchor="middle">Absorbance</text>
<rect x="1719.5" y="199.5" width="204" height="7.6" fill="#505050"/>
<text x="1938" y="230.5" font-size="86" letter-spacing="1.5">CMC</text>
<rect x="1719.5" y="307.2" width="204" height="7.6" fill="#F04045"/>
<text x="1938" y="338.2" font-size="86" letter-spacing="1.5">CME</text>
<rect x="1719.5" y="414.9" width="204" height="7.6" fill="#1B6EDF"/>
<text x="1938" y="445.9" font-size="86" letter-spacing="1.5">5CPE</text>
<rect x="1719.5" y="522.7" width="204" height="7.6" fill="#37AE6E"/>
<text x="1938" y="553.7" font-size="86" letter-spacing="1.5">10CPE</text>
<rect x="1719.5" y="630.4" width="204" height="7.6" fill="#B278E0"/>
<text x="1938" y="661.4" font-size="86" letter-spacing="1.5">30CPE</text>
</g>
</svg>
</body>
</html>
